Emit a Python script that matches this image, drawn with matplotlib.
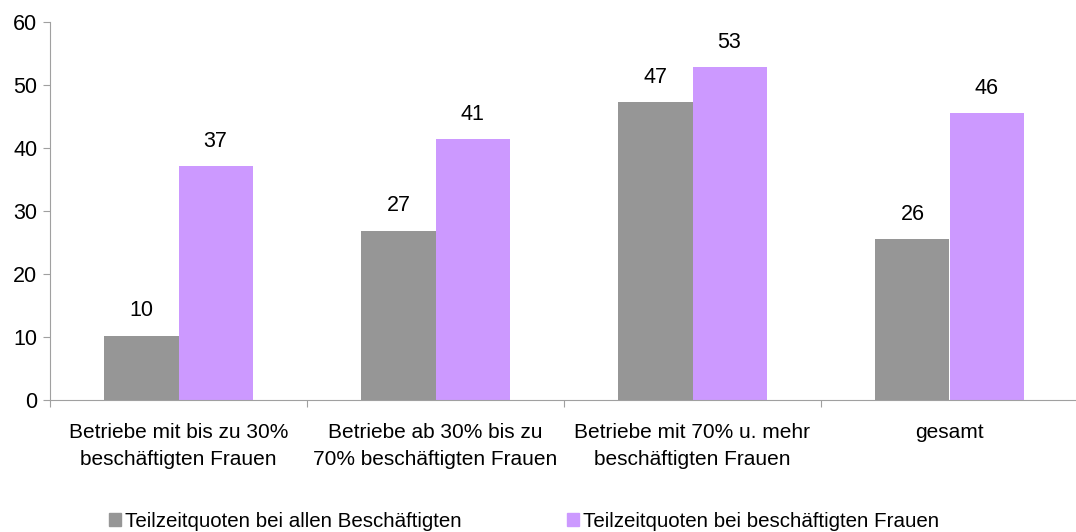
import numpy as np
import matplotlib
matplotlib.use("Agg")
import matplotlib.pyplot as plt
from matplotlib.patches import Patch

plt.rcParams['font.family'] = ['Liberation Sans', 'DejaVu Sans']

kategorien = ['Betriebe mit bis zu 30%\nbeschäftigten Frauen',
              'Betriebe ab 30% bis zu\n70% beschäftigten Frauen',
              'Betriebe mit 70% u. mehr\nbeschäftigten Frauen',
              'gesamt']
alle = [10.2, 26.9, 47.3, 25.5]
frauen = [37.1, 41.4, 52.8, 45.5]
serien = ['Teilzeitquoten bei allen Beschäftigten',
          'Teilzeitquoten bei beschäftigten Frauen']
farben = ['#969696', '#CC99FF']

fig = plt.figure(figsize=(10.76, 5.32), dpi=100)
ax = fig.add_axes([50 / 1076, 132 / 532, 1028 / 1076, 378 / 532])

x = np.arange(len(kategorien))
w = 0.288
b1 = ax.bar(x - w / 2, alle, w, color=farben[0])
b2 = ax.bar(x + w / 2, frauen, w, color=farben[1])

for bars, vals in [(b1, alle), (b2, frauen)]:
    for r, v in zip(bars, vals):
        ax.annotate(f"{v:.0f}", (r.get_x() + r.get_width() / 2, v),
                    xytext=(0, 18), textcoords='offset points',
                    ha='center', va='center', fontsize=15.5)

ax.set_xlim(-0.5, 3.5)
ax.set_ylim(0, 60)
ax.set_yticks(range(0, 61, 10))
ax.tick_params(axis='y', labelsize=15.5, color='#A0A0A0', length=5, pad=4)

# Kategoriegrenzen als Ticks
ax.set_xticks(np.arange(-0.5, 4, 1))
ax.set_xticklabels([])
ax.tick_params(axis='x', color='#A0A0A0', length=5)
for i, k in enumerate(kategorien):
    ax.text(i, -3.7, k, ha='center', va='top', fontsize=15,
            linespacing=1.5, transform=ax.transData)

for s in ['top', 'right']:
    ax.spines[s].set_visible(False)
for s in ['left', 'bottom']:
    ax.spines[s].set_color('#A0A0A0')

handles = [Patch(color=c) for c in farben]
fig.legend(handles, serien, loc='center', bbox_to_anchor=(0.487, 0.02),
           ncol=2, frameon=False, fontsize=14.8, handlelength=0.6,
           handleheight=0.6, handletextpad=0.2, columnspacing=5.1)

fig.savefig('out.png', dpi=100)
